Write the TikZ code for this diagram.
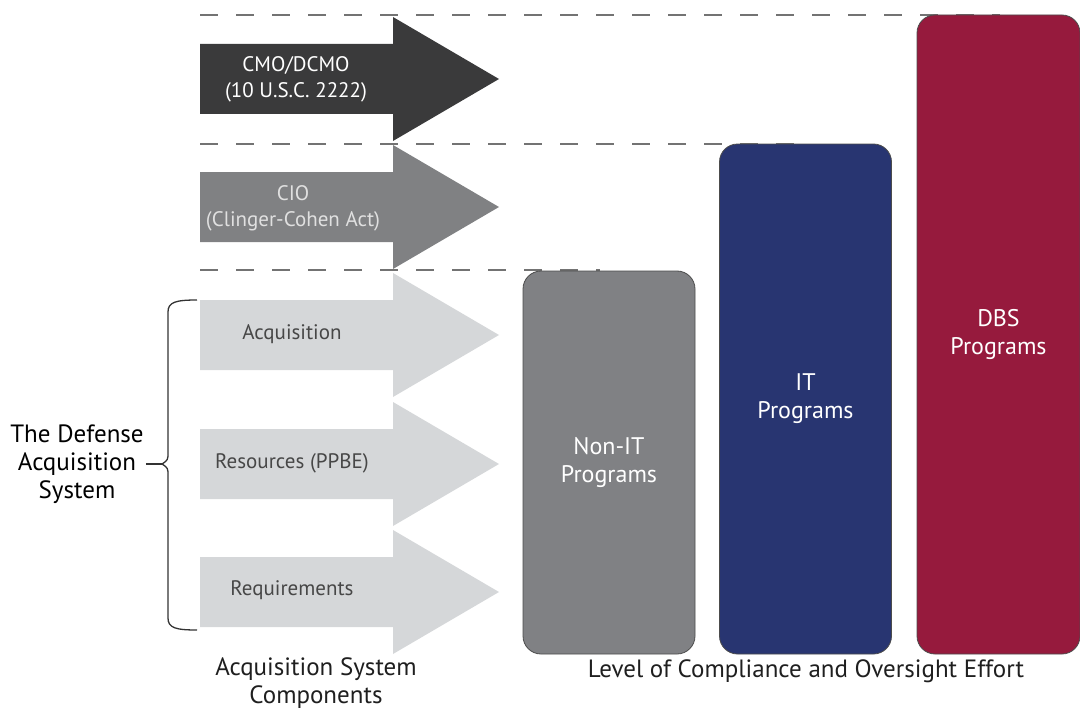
\documentclass[tikz,border=0pt]{standalone}
\usepackage{fontspec}
\setmainfont{PT Sans}
\definecolor{cmogray}{HTML}{3A3A3B}
\definecolor{ciogray}{HTML}{808183}
\definecolor{compgray}{HTML}{D5D7D9}
\definecolor{nonitgray}{HTML}{808184}
\definecolor{itblue}{HTML}{283571}
\definecolor{dbsred}{HTML}{961A3D}
\begin{document}
\begin{tikzpicture}[x=1pt,y=-1pt,
    arrowtxt/.style={align=center, font=\fontsize{21}{26}\selectfont},
    prog/.style={draw=black!70, line width=0.8pt, rounded corners=18pt, text=white, align=center,
        font=\fontsize{24}{28}\selectfont, minimum width=172pt},
    guide/.style={draw=black!55, line width=2pt, dash pattern=on 18pt off 18pt},
    caption/.style={align=center, text=black!88, font=\fontsize{25}{28}\selectfont, inner sep=2pt}]
    \useasboundingbox (0,0) rectangle (1080,709);

    % dashed levels
    \draw[guide] (200,15) -- (1000,15);
    \draw[guide] (200,144) -- (800,144);
    \draw[guide] (200,270) -- (600,270);

    % arrows
    \foreach \yc/\col in {79/cmogray, 207/ciogray, 335/compgray, 464/compgray, 592/compgray}
        \fill[\col] (200,\yc-35) -- (393,\yc-35) -- (393,\yc-62) -- (499,\yc)
            -- (393,\yc+62) -- (393,\yc+35) -- (200,\yc+35) -- cycle;

    \node[arrowtxt, text=white] (cmo) at (296,79) {CMO/DCMO\\(10 U.S.C. 2222)};
    \node[arrowtxt, text=black!12] (cio) at (293,208) {CIO\\(Clinger-Cohen Act)};
    \node[arrowtxt, text=black!72] (acq) at (292,334) {Acquisition};
    \node[arrowtxt, text=black!72] (res) at (292,463) {Resources (PPBE)};
    \node[arrowtxt, text=black!72] (req) at (292,590) {Requirements};

    % programs
    \node[prog, fill=nonitgray, minimum height=383pt] (nonit) at (609,462.5) {Non-IT\\Programs};
    \node[prog, fill=itblue, minimum height=510pt] (it) at (805.5,399) {IT\\Programs};
    \node[prog, fill=dbsred, minimum height=639pt, minimum width=163pt] (dbs) at (998.5,334.5) {DBS\\Programs};

    % the defense acquisition system
    \node[caption, text=black] (das) at (77,464) {The Defense\\Acquisition\\System};
    \draw[black!80, line width=1.3pt] (197,300) .. controls (176,300) and (168,302) .. (168,312)
        -- (168,452) .. controls (168,460) .. (162,464) .. controls (168,468) .. (168,476)
        -- (168,618) .. controls (168,628) and (176,630) .. (197,630);
    \draw[black!80, line width=1.3pt] (das.east) -- (162,464);

    \node[caption] (comp) at (316,683) {Acquisition System\\Components};
    \node[caption] (effort) at (806,671) {Level of Compliance and Oversight Effort};
\end{tikzpicture}
\end{document}
